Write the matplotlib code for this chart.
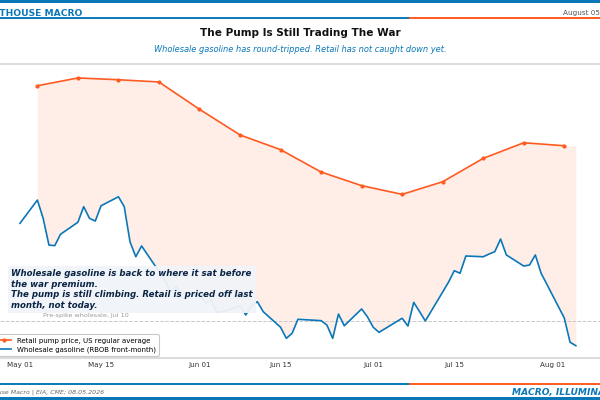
import numpy as np
import matplotlib
matplotlib.use('Agg')
import matplotlib.pyplot as plt
import matplotlib.dates as mdates
from matplotlib.lines import Line2D
from matplotlib.patches import Rectangle

### data (USD/gal)

retail_dates = ['2026-05-04', '2026-05-11', '2026-05-18', '2026-05-25', '2026-06-01',
                '2026-06-08', '2026-06-15', '2026-06-22', '2026-06-29', '2026-07-06',
                '2026-07-13', '2026-07-20', '2026-07-27', '2026-08-03']
retail_price = [4.195, 4.247, 4.235, 4.220, 4.038, 3.867, 3.769,
                3.620, 3.529, 3.471, 3.555, 3.711, 3.815, 3.795]

wholesale_dates = ['2026-05-01', '2026-05-04', '2026-05-05', '2026-05-06', '2026-05-07',
                   '2026-05-08', '2026-05-11', '2026-05-12', '2026-05-13', '2026-05-14',
                   '2026-05-15', '2026-05-18', '2026-05-19', '2026-05-20', '2026-05-21',
                   '2026-05-22', '2026-05-26', '2026-05-27', '2026-05-28', '2026-05-29',
                   '2026-06-01', '2026-06-02', '2026-06-03', '2026-06-04', '2026-06-05',
                   '2026-06-08', '2026-06-09', '2026-06-10', '2026-06-11', '2026-06-12',
                   '2026-06-15', '2026-06-16', '2026-06-17', '2026-06-18', '2026-06-22',
                   '2026-06-23', '2026-06-24', '2026-06-25', '2026-06-26', '2026-06-29',
                   '2026-06-30', '2026-07-01', '2026-07-02', '2026-07-06', '2026-07-07',
                   '2026-07-08', '2026-07-09', '2026-07-10', '2026-07-13', '2026-07-14',
                   '2026-07-15', '2026-07-16', '2026-07-17', '2026-07-20', '2026-07-21',
                   '2026-07-22', '2026-07-23', '2026-07-24', '2026-07-27', '2026-07-28',
                   '2026-07-29', '2026-07-30', '2026-07-31', '2026-08-03', '2026-08-04',
                   '2026-08-05']
wholesale_price = [3.278, 3.433, 3.311, 3.133, 3.129, 3.205, 3.285, 3.389, 3.311, 3.293,
                   3.395, 3.455, 3.389, 3.155, 3.055, 3.127, 2.900, 2.820, 2.860, 2.780,
                   2.807, 2.747, 2.767, 2.685, 2.689, 2.727, 2.667, 2.733, 2.755, 2.689,
                   2.585, 2.511, 2.545, 2.638, 2.629, 2.600, 2.511, 2.673, 2.595, 2.707,
                   2.655, 2.585, 2.551, 2.645, 2.593, 2.751, 2.690, 2.627, 2.820, 2.885,
                   2.962, 2.945, 3.060, 3.055, 3.073, 3.089, 3.173, 3.067, 2.993, 3.000,
                   3.067, 2.945, 2.871, 2.647, 2.485, 2.462]

pre_spike_date = '2026-07-10'

title = 'The Pump Is Still Trading The War'
subtitle = 'Wholesale gasoline has round-tripped. Retail has not caught down yet.'
note = ('Wholesale gasoline is back to where it sat before\nthe war premium.\n'
        'The pump is still climbing. Retail is priced off last\nmonth, not today.')

### colours
BLUE = '#0A78B8'
ORANGE = '#FF5A1F'
NAVY = '#0B2545'

r_x = mdates.date2num(np.array(retail_dates, dtype='datetime64[D]'))
w_x = mdates.date2num(np.array(wholesale_dates, dtype='datetime64[D]'))
r_y = np.array(retail_price)
w_y = np.array(wholesale_price)
pre_spike = w_y[wholesale_dates.index(pre_spike_date)]

fig = plt.figure(figsize=(6, 4), dpi=100)
ax = fig.add_axes([0.0, 0.105, 1.0, 0.735])

# spread between the pump and wholesale, from the first retail print onward
mask = w_x >= r_x[0]
retail_on_w = np.interp(w_x[mask], r_x, r_y)
ax.fill_between(w_x[mask], w_y[mask], retail_on_w, color=ORANGE, alpha=0.1, lw=0, zorder=1)

ax.plot(r_x, r_y, color=ORANGE, lw=1.2, marker='o', markersize=2.0,
        label='Retail pump price, US regular average', zorder=3)
ax.plot(w_x, w_y, color=BLUE, lw=1.2, label='Wholesale gasoline (RBOB front-month)', zorder=3)

ax.axhline(pre_spike, color='#c8c8c8', lw=0.7, ls='--', zorder=2)
ax.text(0.072, pre_spike + 0.02, 'Pre-spike wholesale, Jul 10', transform=ax.get_yaxis_transform(),
        fontsize=4.6, color='#9a9a9a', va='bottom', ha='left')

x0 = mdates.date2num(np.datetime64('2026-05-01'))
ax.set_xlim(x0 - 3.454, x0 + 100.17)
ax.set_ylim(2.38, 4.34)

ax.xaxis.set_major_locator(mdates.DayLocator(bymonthday=[1, 15]))
ax.xaxis.set_major_formatter(mdates.DateFormatter('%b %d'))
ax.tick_params(axis='x', length=0, labelsize=5.1, pad=3, colors='#333333')
ax.tick_params(axis='y', left=False, labelleft=False)
for side in ['left', 'right']:
    ax.spines[side].set_visible(False)
for side in ['top', 'bottom']:
    ax.spines[side].set_color('#dcdcdc')
    ax.spines[side].set_linewidth(1.5)

ax.text(0.019, 0.302, note, transform=ax.transAxes, fontsize=6.2, fontweight='bold',
        fontstyle='italic', color=NAVY, va='top', ha='left', linespacing=1.22, zorder=5,
        bbox=dict(boxstyle='square,pad=0.35', facecolor='#f1f4f8', edgecolor='none', alpha=0.95))

leg = ax.legend(loc='lower left', bbox_to_anchor=(-0.012, 0.008), borderaxespad=0,
                fontsize=5.0, frameon=True, handlelength=2.2, borderpad=0.45, labelspacing=0.35)
leg.get_frame().set_edgecolor('#bbbbbb')
leg.get_frame().set_linewidth(0.8)

# header
fig.add_artist(Rectangle((0, 0.9925), 1, 0.0075, transform=fig.transFigure, color=BLUE, lw=0))
fig.add_artist(Line2D([0, 0.683], [0.954, 0.954], transform=fig.transFigure, color=BLUE, lw=1.4))
fig.add_artist(Line2D([0.683, 1], [0.954, 0.954], transform=fig.transFigure, color=ORANGE, lw=1.4))
fig.text(-0.042, 0.967, 'LIGHTHOUSE MACRO', fontsize=6.6, fontweight='bold', color=BLUE, va='center', ha='left')
fig.text(0.938, 0.968, 'August 05, 2026', fontsize=5.2, color='#555555', va='center', ha='left')
fig.text(0.5, 0.917, title, fontsize=7.6, fontweight='bold', color='#111111', ha='center', va='center')
fig.text(0.5, 0.877, subtitle, fontsize=5.95, fontstyle='italic', color=BLUE, ha='center', va='center')

# footer
fig.add_artist(Line2D([0, 0.683], [0.04, 0.04], transform=fig.transFigure, color=BLUE, lw=1.4))
fig.add_artist(Line2D([0.683, 1], [0.04, 0.04], transform=fig.transFigure, color=ORANGE, lw=1.4))
fig.add_artist(Rectangle((0, 0), 1, 0.0075, transform=fig.transFigure, color=BLUE, lw=0))
fig.text(-0.044, 0.019, 'Lighthouse Macro | EIA, CME; 08.05.2026', fontsize=4.5, fontstyle='italic',
         color='#666666', va='center', ha='left')
fig.text(0.853, 0.019, 'MACRO, ILLUMINATED.', fontsize=6.6, fontweight='bold', fontstyle='italic',
         color=BLUE, va='center', ha='left')

fig.savefig('out.png', dpi=100)
